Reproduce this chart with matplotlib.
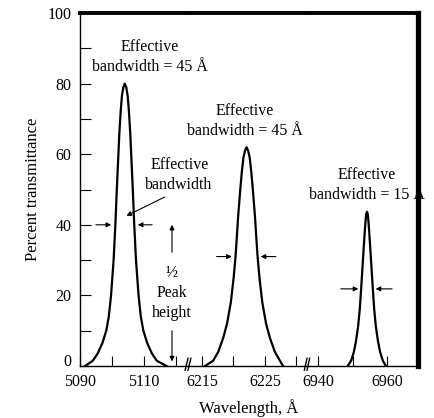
import numpy as np
import matplotlib
matplotlib.use('Agg')
import matplotlib.pyplot as plt

plt.rcParams['font.family'] = ['Liberation Serif', 'DejaVu Serif']

# peak 1 (5090-5110 region)
peak1_wl = [5091.6, 5094.0, 5095.5, 5097.0, 5098.2, 5099.0, 5099.7, 5100.5, 5101.05, 5101.5,
            5101.9, 5102.3, 5102.7, 5103.1, 5103.55, 5104.0, 5104.45, 5104.9, 5105.3, 5105.7,
            5106.1, 5106.5, 5106.95, 5107.5, 5108.3, 5109.0, 5109.8, 5111.0, 5112.5, 5114.0,
            5117.0]
peak1_t = [0, 1.5, 3.5, 6.5, 10, 14, 20, 30, 40, 50,
           58, 66, 72, 76.5, 79, 80, 79, 76.5, 72, 66,
           58, 50, 40, 30, 20, 14, 10, 6.5, 3.5, 1.5,
           0]

# peak 2 (6215-6225 region)
peak2_wl = [6215.5, 6216.8, 6217.6, 6218.4, 6219.0, 6219.6, 6220.05, 6220.35, 6220.5, 6220.75,
            6221.1, 6221.35, 6221.6, 6221.85, 6222.1, 6222.35, 6222.6, 6222.85, 6223.1, 6223.45,
            6223.7, 6223.85, 6224.15, 6224.6, 6225.2, 6225.8, 6226.6, 6227.4, 6227.9]
peak2_t = [0, 1.5, 4, 8, 12, 18, 25, 31, 35, 42,
           50, 55, 59, 61, 62, 61, 59, 55, 50, 42,
           35, 31, 25, 18, 12, 8, 4, 1.5, 0]

# peak 3 (6940-6960 region)
peak3_wl = [6948.6, 6949.6, 6950.4, 6951.0, 6951.6, 6952.1, 6952.5, 6952.9, 6953.35, 6953.7,
            6953.95, 6954.2, 6954.45, 6954.7, 6955.05, 6955.5, 6955.9, 6956.3, 6956.8, 6957.4,
            6958.0, 6958.8, 6959.7]
peak3_t = [0, 1.5, 4, 7, 11, 16, 21.8, 28, 35, 40,
           43, 43.7, 43, 40, 35, 28, 21.8, 16, 11, 7,
           4, 1.5, 0]

seg_limits = [(5090, 5123.75), (6212.8, 6231.7), (6936.8, 6969.0)]
seg_major = [[5090, 5110], [6215, 6225], [6940, 6960]]
seg_minor = [[5100, 5120], [6220, 6230], [6950]]
y_labels = [0, 20, 40, 60, 80, 100]
y_minor = [10, 30, 50, 70, 90]

W, H = 435, 418
fig = plt.figure(figsize=(W / 100, H / 100), dpi=100)
bot = 1 - 366 / H
top = 1 - 13 / H
edges = [80, 188, 307, 418]
axes = []
for i in range(3):
    ax = fig.add_axes([edges[i] / W, bot, (edges[i + 1] - edges[i]) / W, top - bot])
    ax.patch.set_visible(False)
    ax.set_xlim(*seg_limits[i])
    ax.set_ylim(0, 100)
    ax.set_xticks(seg_major[i])
    ax.set_xticks(seg_minor[i], minor=True)
    ax.tick_params(axis='x', which='both', direction='in', length=7, width=0.8,
                   labelsize=11.5, pad=6)
    ax.spines['top'].set_linewidth(2.8)
    ax.spines['bottom'].set_linewidth(1.0)
    if i > 0:
        ax.spines['left'].set_visible(False)
        ax.set_yticks([])
    if i < 2:
        ax.spines['right'].set_visible(False)
    axes.append(ax)

ax1, ax2, ax3 = axes
ax1.set_yticks(y_labels)
ax1.set_yticks(y_minor, minor=True)
ax1.tick_params(axis='y', which='both', direction='in', length=8, width=0.8,
                labelsize=11.5, pad=6)
ax1.get_yticklabels()[0].set_va('baseline')
ax1.spines['left'].set_linewidth(1.0)
ax3.spines['right'].set_linewidth(3.8)

ax1.set_ylabel('Percent transmittance', fontsize=12, labelpad=5)
fig.text(249 / W, 1 - 408 / H, 'Wavelength, Å', ha='center', va='center', fontsize=12)

for ax, wl, t in [(ax1, peak1_wl, peak1_t), (ax2, peak2_wl, peak2_t), (ax3, peak3_wl, peak3_t)]:
    ax.plot(wl, t, color='black', lw=1.6)

# break marks on the x axis
for ax in [ax2, ax3]:
    for dx in [-0.012, 0.012]:
        ax.plot([dx - 0.012, dx + 0.012], [-0.012, 0.022], transform=ax.transAxes,
                color='black', lw=1.0, clip_on=False)

# half-height arrows
arr = dict(arrowstyle='-|>', color='black', lw=0.8, mutation_scale=7)
h1 = max(peak1_t) / 2
h2 = max(peak2_t) / 2
h3 = max(peak3_t) / 2
ax1.annotate('', xy=(5100.6, h1), xytext=(5094.1, h1), arrowprops=arr)
ax1.annotate('', xy=(5107.2, h1), xytext=(5113.4, h1), arrowprops=arr)
ax2.annotate('', xy=(6220.2, h2), xytext=(6216.9, h2), arrowprops=arr)
ax2.annotate('', xy=(6223.9, h2), xytext=(6227.2, h2), arrowprops=arr)
ax3.annotate('', xy=(6952.5, h3), xytext=(6945.8, h3), arrowprops=arr)
ax3.annotate('', xy=(6955.9, h3), xytext=(6962.3, h3), arrowprops=arr)

# leader to the bandwidth
ax1.annotate('', xy=(5103.75, 42.2), xytext=(5117.2, 48.2), arrowprops=arr)

# 1/2 peak height
xh = 5118.75
ax1.annotate('', xy=(xh, h1 + 0.8), xytext=(xh, 31.4), arrowprops=arr)
ax1.annotate('', xy=(xh, 0.5), xytext=(xh, 10.8), arrowprops=arr)
fs = 11.5
ax1.text(xh, 26.6, '½', ha='center', va='center', fontsize=fs)
ax1.text(xh, 20.7, 'Peak', ha='center', va='center', fontsize=fs)
ax1.text(xh, 15.0, 'height', ha='center', va='center', fontsize=fs)

ax1.text(5111.9, 90.4, 'Effective', ha='center', va='center', fontsize=fs)
ax1.text(5111.9, 84.7, 'bandwidth = 45 Å', ha='center', va='center', fontsize=fs)
ax1.text(5121.25, 56.9, 'Effective', ha='center', va='center', fontsize=fs)
ax1.text(5120.7, 51.3, 'bandwidth', ha='center', va='center', fontsize=fs)
ax2.text(6221.8, 72.3, 'Effective', ha='center', va='center', fontsize=fs)
ax2.text(6221.8, 66.5, 'bandwidth = 45 Å', ha='center', va='center', fontsize=fs)
ax3.text(6954.2, 54.1, 'Effective', ha='center', va='center', fontsize=fs)
ax3.text(6954.2, 48.4, 'bandwidth = 15 Å', ha='center', va='center', fontsize=fs)

fig.savefig('out.png', dpi=100)
